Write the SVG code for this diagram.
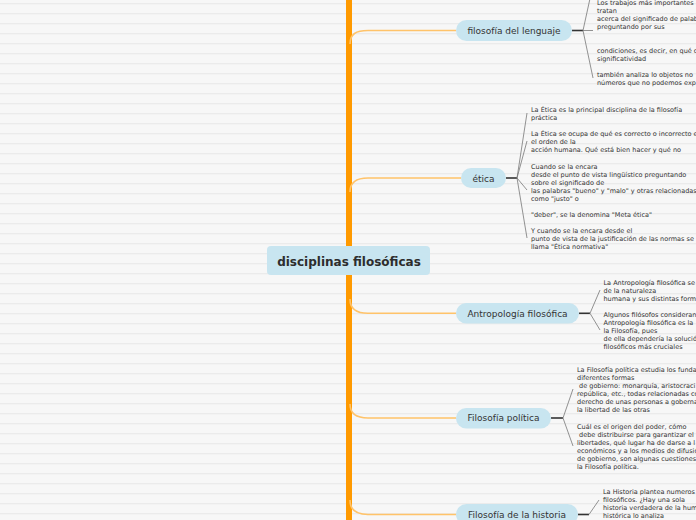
<svg xmlns="http://www.w3.org/2000/svg" width="696" height="520" viewBox="0 0 696 520">
<defs>
<pattern id="stripes" x="0" y="0" width="10" height="10" patternUnits="userSpaceOnUse">
<rect x="0" y="0" width="10" height="10" fill="#f7f7f7"/>
<rect x="0" y="3" width="10" height="1.3" fill="#ebebeb"/>
</pattern>
<style>
.trunk{fill:#ff9a00}
.branch{fill:none;stroke:#ffc36a;stroke-width:1.6}
.stem{fill:none;stroke:#333;stroke-width:1.6}
.fan{fill:none;stroke:#777;stroke-width:0.8}
.node{fill:#c8e5f0}
.lbl{font-family:"DejaVu Sans",Verdana,sans-serif;font-size:9px;fill:#333;text-anchor:middle}
.rootlbl{font-family:"DejaVu Sans",Verdana,sans-serif;font-size:12px;font-weight:bold;fill:#2d2d2d;text-anchor:middle}
.note{font-family:"DejaVu Sans",Verdana,sans-serif;font-size:6.5px;fill:#333}
</style>
</defs>
<rect x="0" y="0" width="696" height="520" fill="url(#stripes)"/>
<rect class="trunk" x="346" y="0" width="6" height="520"/>
<g id="connectors">
<path class="branch" d="M350 44 C350 34 356 30.5 368 30.5 H456"/>
<path class="branch" d="M350 192 C350 182 356 178 368 178 H461"/>
<path class="branch" d="M350 299 C350 309 356 313.3 368 313.3 H456"/>
<path class="branch" d="M350 404 C350 414 356 418 368 418 H456"/>
<path class="branch" d="M350 500 C350 510 356 514.5 368 514.5 H456"/>
<path class="stem" d="M572 30.5 H583"/>
<path class="fan" d="M583 30.5 H593 M583 30.5 L591 -6 M583 30.5 L593 78"/>
<path class="stem" d="M506 178 H517"/>
<path class="fan" d="M517 178 L527 113 M517 178 L527 141 M517 178 L527 190 M517 178 L527 238"/>
<path class="stem" d="M579 313.3 H590"/>
<path class="fan" d="M590 313.3 L600 290 M590 313.3 L600 330"/>
<path class="stem" d="M551 418 H563"/>
<path class="fan" d="M563 418 L573 389 M563 418 L573 446"/>
<path class="stem" d="M578 514.5 H589"/>
<path class="fan" d="M589 514.5 L599 500"/>
</g>
<g id="root">
<rect class="node" x="267" y="246" width="163" height="29" rx="4"/>
<text class="rootlbl" x="349" y="265.5">disciplinas filosóficas</text>
</g>
<g id="lenguaje">
<rect class="node" x="456" y="20" width="116" height="21" rx="10.5"/>
<text class="lbl" x="514" y="34">filosofía del lenguaje</text>
</g>
<g id="etica">
<rect class="node" x="461" y="168" width="45" height="20" rx="10"/>
<text class="lbl" x="483.5" y="181.5">ética</text>
</g>
<g id="antropologia">
<rect class="node" x="456" y="303" width="123" height="20.5" rx="10.25"/>
<text class="lbl" x="517.5" y="316.6">Antropología filosófica</text>
</g>
<g id="politica">
<rect class="node" x="456" y="408" width="95" height="20.5" rx="10.25"/>
<text class="lbl" x="503.5" y="421.3">Filosofía política</text>
</g>
<g id="historia">
<rect class="node" x="456" y="504" width="122" height="21" rx="10.5"/>
<text class="lbl" x="517" y="518">Filosofía de la historia</text>
</g>
<g id="lenguaje-notes">
<text class="note" x="597" y="4.5">Los trabajos más importantes</text>
<text class="note" x="597" y="12.5">tratan</text>
<text class="note" x="597" y="20.5">acerca del significado de palab</text>
<text class="note" x="597" y="28.5">preguntando por sus</text>
<text class="note" x="597" y="52.5">condiciones, es decir, en qué c</text>
<text class="note" x="597" y="60.5">significatividad</text>
<text class="note" x="597" y="76.5">también analiza lo objetos no</text>
<text class="note" x="597" y="84.5">números que no podemos exp</text>
</g>
<g id="etica-notes">
<text class="note" x="531" y="111.5">La Ética es la principal disciplina de la filosofía</text>
<text class="note" x="531" y="119.5">práctica</text>
<text class="note" x="531" y="135.5">La Ética se ocupa de qué es correcto o incorrecto e</text>
<text class="note" x="531" y="143.5">el orden de la</text>
<text class="note" x="531" y="151.5">acción humana. Qué está bien hacer y qué no</text>
<text class="note" x="531" y="168.5">Cuando se la encara</text>
<text class="note" x="531" y="176.5">desde el punto de vista lingüístico preguntando</text>
<text class="note" x="531" y="184.5">sobre el significado de</text>
<text class="note" x="531" y="192.5">las palabras "bueno" y "malo" y otras relacionadas</text>
<text class="note" x="531" y="200.5">como "justo" o</text>
<text class="note" x="531" y="216.5">"deber", se la denomina "Meta ética"</text>
<text class="note" x="531" y="232.5">Y cuando se la encara desde el</text>
<text class="note" x="531" y="240.5">punto de vista de la justificación de las normas se</text>
<text class="note" x="531" y="248.5">llama "Ética normativa"</text>
</g>
<g id="antropologia-notes">
<text class="note" x="603.5" y="284.5">La Antropología filosófica se</text>
<text class="note" x="603.5" y="292.5">de la naturaleza</text>
<text class="note" x="603.5" y="300.5">humana y sus distintas form</text>
<text class="note" x="603.5" y="316.5">Algunos filósofos consideran</text>
<text class="note" x="603.5" y="324.5">Antropología filosófica es la</text>
<text class="note" x="603.5" y="332.5">la Filosofía, pues</text>
<text class="note" x="603.5" y="340.5">de ella dependería la solució</text>
<text class="note" x="603.5" y="348.5">filosóficos más cruciales</text>
</g>
<g id="politica-notes">
<text class="note" x="577" y="371.5">La Filosofía política estudia los funda</text>
<text class="note" x="577" y="379.5">diferentes formas</text>
<text class="note" x="577" y="387.5" xml:space="preserve"> de gobierno: monarquía, aristocraci</text>
<text class="note" x="577" y="395.5">república, etc., todas relacionadas co</text>
<text class="note" x="577" y="403.5">derecho de unas personas a goberna</text>
<text class="note" x="577" y="411.5">la libertad de las otras</text>
<text class="note" x="577" y="428.5">Cuál es el origen del poder, cómo</text>
<text class="note" x="577" y="436.5" xml:space="preserve"> debe distribuirse para garantizar el</text>
<text class="note" x="577" y="444.5">libertades, qué lugar ha de darse a l</text>
<text class="note" x="577" y="452.5">económicos y a los medios de difusió</text>
<text class="note" x="577" y="460.5">de gobierno, son algunas cuestiones</text>
<text class="note" x="577" y="468.5">la Filosofía política.</text>
</g>
<g id="historia-notes">
<text class="note" x="603" y="493.5">La Historia plantea numeros</text>
<text class="note" x="603" y="501.5">filosóficos. ¿Hay una sola</text>
<text class="note" x="603" y="509.5">historia verdadera de la hum</text>
<text class="note" x="603" y="517.5">histórica lo analiza</text>
</g>
</svg>
